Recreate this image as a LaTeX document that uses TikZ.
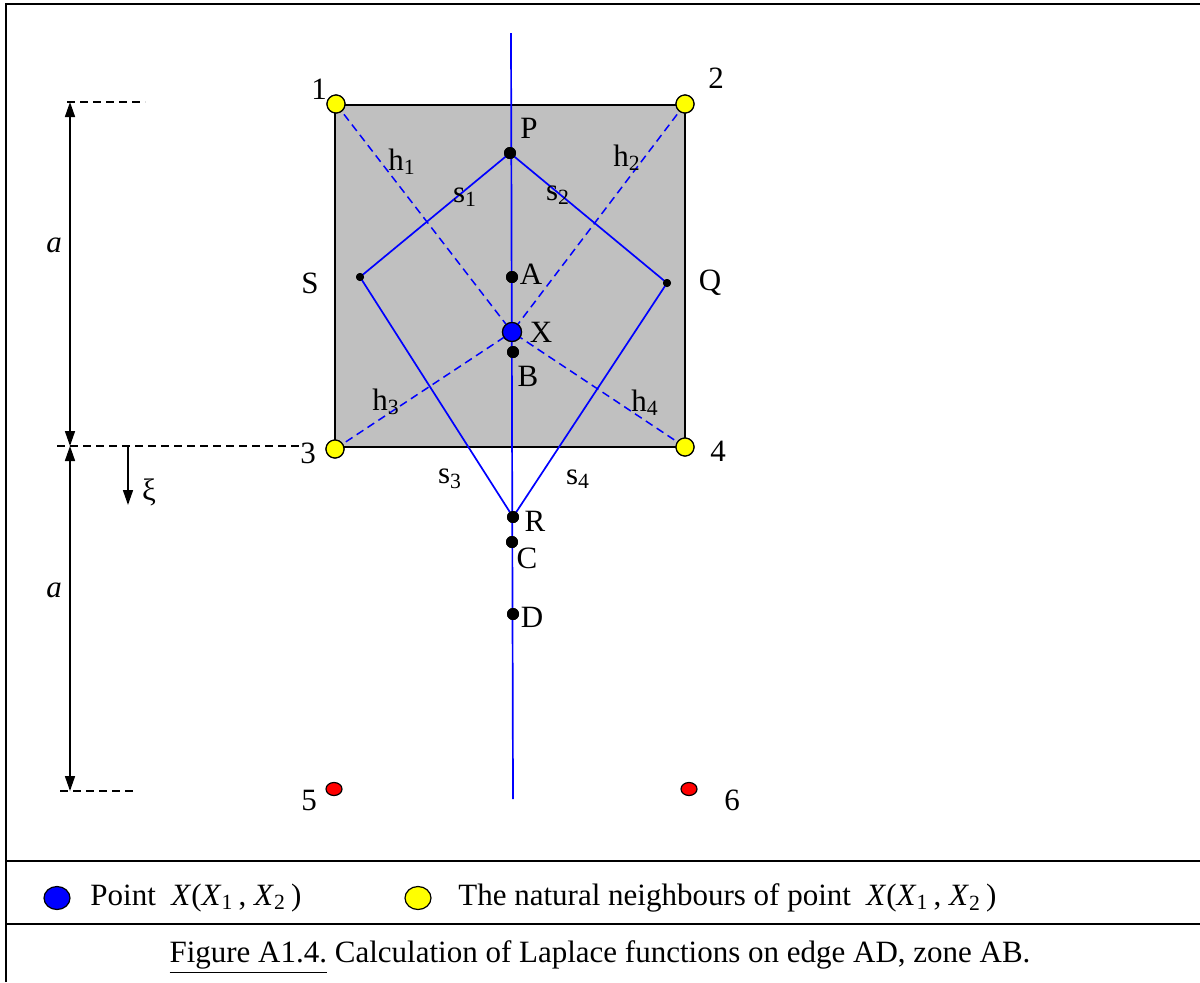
\documentclass[tikz,border=0pt]{standalone}
\usepackage{fontspec}
\setmainfont{Liberation Serif}
\usetikzlibrary{arrows.meta,shapes.geometric}
\definecolor{sqgray}{RGB}{192,192,192}
\definecolor{bl}{RGB}{0,0,255}
\definecolor{yl}{RGB}{255,255,0}
\definecolor{rd}{RGB}{255,0,0}
\begin{document}
\begin{tikzpicture}[x=0.5pt,y=-0.5pt,
  lbl/.style={font=\fontsize{15.5}{18}\selectfont, inner sep=0pt},
  bdot/.style={circle, fill=black, minimum size=6pt, inner sep=0pt},
  sdot/.style={circle, fill=black, minimum size=4pt, inner sep=0pt},
  ynode/.style={circle, fill=yl, draw=black, line width=0.6pt, minimum size=9pt, inner sep=0pt},
  xnode/.style={circle, fill=bl, draw=black, line width=0.6pt, minimum size=9.5pt, inner sep=0pt},
  rnode/.style={ellipse, fill=rd, draw=black, line width=0.6pt, minimum width=8pt, minimum height=6.5pt, inner sep=0pt},
  bline/.style={draw=bl, line width=0.85pt},
  hline/.style={draw=bl, line width=0.75pt, dash pattern=on 4pt off 2.5pt},
  kdash/.style={draw=black, line width=0.6pt, dash pattern=on 4pt off 2.5pt},
  dimarrow/.style={line width=0.8pt, {Triangle[length=7.5pt,width=5pt]}-{Triangle[length=7.5pt,width=5pt]}},
  onearrow/.style={line width=0.8pt, -{Triangle[length=7.5pt,width=5pt]}},
  frame/.style={line width=1pt}
]
\useasboundingbox (0,0) rectangle (1200,982);
% frame
\draw[frame] (6,982) -- (6,4) -- (1200,4);
\draw[frame] (6,861) -- (1200,861);
\draw[frame] (6,924) -- (1200,924);
% square
\draw[fill=sqgray, line width=0.7pt] (335,105) rectangle (685,447);
% points
\coordinate (top) at (511,33);
\coordinate (bot) at (513,799);
\node[ynode] (n1) at (336,104) {};
\node[ynode] (n2) at (685,104) {};
\node[ynode] (n3) at (335,449) {};
\node[ynode] (n4) at (685,447) {};
\node[rnode] (n5) at (334,789) {};
\node[rnode] (n6) at (689,789) {};
\node[bdot] (P) at (510,153) {};
\node[bdot] (A) at (512,277) {};
\node[bdot] (B) at (513,352) {};
\node[sdot] (S) at (360,277) {};
\node[sdot] (Q) at (667,283) {};
\node[bdot] (R) at (513,517) {};
\node[bdot] (C) at (512,542) {};
\node[bdot] (D) at (513,614) {};
\node[xnode] (X) at (512,332) {};
% blue lines
\draw[bline] (top) -- (bot);
\draw[bline] (S.center) -- (P.center) -- (Q.center) -- (R.center) -- (S.center);
\draw[hline] (n1.center) -- (X.center);
\draw[hline] (n2.center) -- (X.center);
\draw[hline] (n3.center) -- (X.center);
\draw[hline] (n4.center) -- (X.center);
% redraw dots on top
\foreach \p/\s in {P/bdot,A/bdot,B/bdot,S/sdot,Q/sdot,R/bdot,C/bdot,D/bdot}{
  \node[\s] at (\p) {};
}
\node[xnode] at (X) {};
\foreach \p in {n1,n2,n3,n4}{ \node[ynode] at (\p) {}; }
% labels
\node[lbl] (l1) at (319,89) {1};
\node[lbl] (l2) at (716,78) {2};
\node[lbl] (l3) at (308,453) {3};
\node[lbl] (l4) at (718,451) {4};
\node[lbl] (l5) at (309,800) {5};
\node[lbl] (l6) at (732,800) {6};
\node[lbl] (lP) at (529,128) {P};
\node[lbl] (lh1) at (402,162) {h\textsubscript{1}};
\node[lbl] (lh2) at (627,158) {h\textsubscript{2}};
\node[lbl] (ls1) at (465,197) {s\textsubscript{1}};
\node[lbl] (ls2) at (558,195) {s\textsubscript{2}};
\node[lbl] (lS) at (310,283) {S};
\node[lbl] (lQ) at (710,283) {Q};
\node[lbl] (lA) at (531,274) {A};
\node[lbl] (lX) at (541,332) {X};
\node[lbl] (lB) at (528,376) {B};
\node[lbl] (lh3) at (386,402) {h\textsubscript{3}};
\node[lbl] (lh4) at (645,403) {h\textsubscript{4}};
\node[lbl] (ls3) at (450,479) {s\textsubscript{3}};
\node[lbl] (ls4) at (578,479) {s\textsubscript{4}};
\node[lbl] (lR) at (535,521) {R};
\node[lbl] (lC) at (527,558) {C};
\node[lbl] (lD) at (532,617) {D};
% dimensions
\coordinate (d1) at (70,102);
\coordinate (d2) at (70,446);
\coordinate (d3) at (70,791);
\coordinate (k1a) at (67,102); \coordinate (k1b) at (145,102);
\coordinate (k2a) at (57,446); \coordinate (k2b) at (300,446);
\coordinate (k3a) at (60,791); \coordinate (k3b) at (135,791);
\draw[kdash] (k1a) -- (k1b);
\draw[kdash] (k2a) -- (k2b);
\draw[kdash] (k3a) -- (k3b);
\draw[dimarrow] (d1) -- (d2);
\draw[dimarrow] (d2) -- (d3);
\node[lbl] (la1) at (54,245) {\textit{a}};
\node[lbl] (la2) at (54,590) {\textit{a}};
\coordinate (xi1) at (128,446);
\coordinate (xi2) at (128,505);
\draw[onearrow] (xi1) -- (xi2);
\node[lbl] (lxi) at (149,492) {ξ};
% legend
\node[xnode, minimum width=13pt, minimum height=11.5pt, ellipse] (legX) at (57,898) {};
\node[lbl, anchor=west] (legXt) at (90,898) {Point \ \textit{X}(\textit{X}\textsubscript{1}\,, \textit{X}\textsubscript{2}\,)};
\node[ynode, minimum width=13pt, minimum height=11.5pt, ellipse] (legY) at (418,898) {};
\node[lbl, anchor=west] (legYt) at (458,898) {The natural neighbours of point \ \textit{X}(\textit{X}\textsubscript{1}\,, \textit{X}\textsubscript{2}\,)};
\node[lbl] (cap) at (600,957) {\underline{Figure A1.4.} Calculation of Laplace functions on edge AD, zone AB.};
\end{tikzpicture}
\end{document}
